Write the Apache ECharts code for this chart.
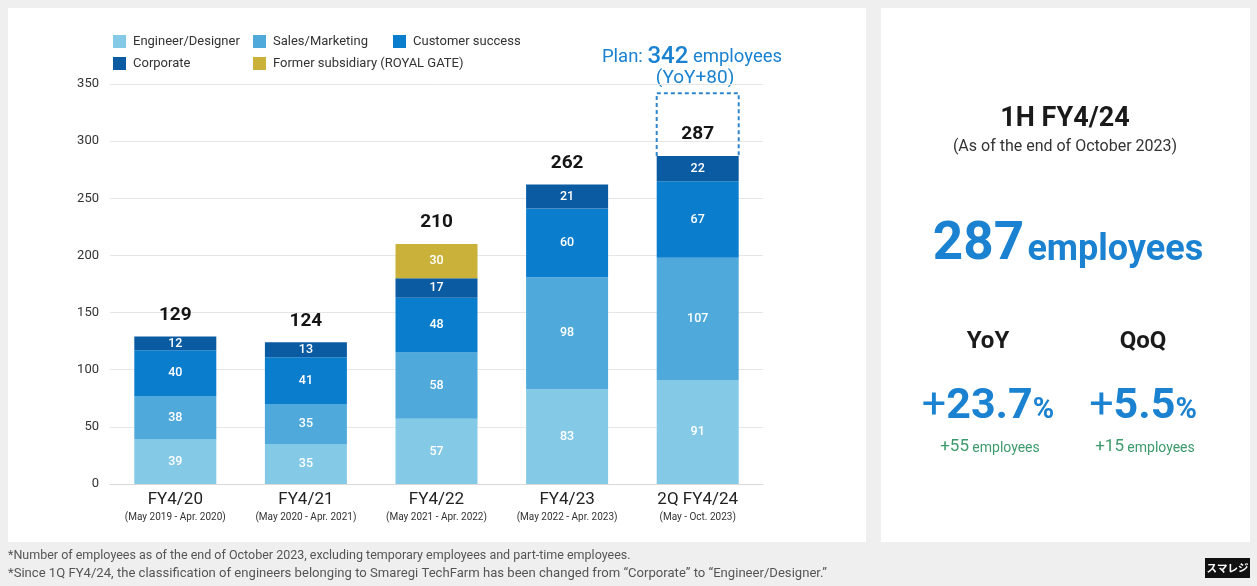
<!DOCTYPE html>
<html>
<head>
<meta charset="utf-8">
<script src="https://cdn.jsdelivr.net/npm/echarts@6/dist/echarts.min.js"></script>
<style>
  html, body { margin: 0; padding: 0; background: #efefef; }
  #chart { width: 1257px; height: 586px; }
</style>
</head>
<body>
<div id="chart"></div>
<script>
// Headcount by function at each fiscal year end
const categories = ['FY4/20', 'FY4/21', 'FY4/22', 'FY4/23', '2Q FY4/24'];
const periods = ['(May 2019 - Apr. 2020)', '(May 2020 - Apr. 2021)', '(May 2021 - Apr. 2022)', '(May 2022 - Apr. 2023)', '(May - Oct. 2023)'];
const engineerDesigner = [39, 35, 57, 83, 91];
const salesMarketing = [38, 35, 58, 98, 107];
const customerSuccess = [40, 41, 48, 60, 67];
const corporate = [12, 13, 17, 21, 22];
const formerSubsidiary = [null, null, 30, null, null];
const totals = [129, 124, 210, 262, 287];
const planIndex = 4;
const planCurrent = 287;
const planTarget = 342;
const yTicks = { min: 0, max: 350, interval: 50 };

const FONT = 'Roboto, "Liberation Sans", sans-serif';
const colors = {
  engineer: '#84c9e6',
  sales: '#4fa9db',
  customer: '#0b7dcd',
  corporate: '#0b5ba3',
  former: '#c9b13a',
  blue: '#1a82d0',
  green: '#3d9a6c'
};

const chart = echarts.init(document.getElementById('chart'));

function segment(name, data, color) {
  return {
    name, type: 'bar', stack: 'staff', data,
    barWidth: 82, barGap: '-100%',
    itemStyle: { color },
    label: {
      show: true, position: 'inside', color: '#ffffff',
      fontFamily: FONT, fontSize: 12.5, fontWeight: 500,
      formatter: p => (p.value == null ? '' : p.value)
    },
    emphasis: { disabled: true }
  };
}

function legendItem(name, left, top) {
  return {
    data: [name], left, top, orient: 'horizontal', padding: 0,
    itemWidth: 13, itemHeight: 13, icon: 'rect', itemGap: 6,
    textStyle: { fontFamily: FONT, fontSize: 13, color: '#333', padding: [0, 0, 0, 2] },
    selectedMode: false
  };
}

function centered(x, y, text, size, weight, fill) {
  return {
    type: 'text', x, y,
    style: { text, textAlign: 'center', textVerticalAlign: 'middle', fontFamily: FONT, fontSize: size, fontWeight: weight, fill }
  };
}

const option = {
  backgroundColor: '#efefef',
  animation: false,
  graphic: [
    { type: 'rect', z: -10, shape: { x: 8, y: 8, width: 858, height: 534 }, style: { fill: '#ffffff' } },
    { type: 'rect', z: -10, shape: { x: 881, y: 8, width: 369, height: 534 }, style: { fill: '#ffffff' } },
    // plan annotation
    {
      type: 'text', x: 692, y: 57,
      style: {
        text: '{s|Plan: }{b|342}{s| employees}', textAlign: 'center', textVerticalAlign: 'middle',
        rich: {
          s: { fontFamily: FONT, fontSize: 18.5, fill: colors.blue },
          b: { fontFamily: FONT, fontSize: 24, fontWeight: 500, fill: colors.blue }
        }
      }
    },
    centered(695, 78, '(YoY+80)', 19, 'normal', colors.blue),
    // summary panel
    centered(1065, 119, '1H FY4/24', 27, 'bold', '#1a1a1a'),
    centered(1065, 147, '(As of the end of October 2023)', 16, 'normal', '#333'),
    {
      type: 'text', x: 1068, y: 246,
      style: {
        text: '{n|287} {u|employees}', textAlign: 'center', textVerticalAlign: 'middle',
        rich: {
          n: { fontFamily: FONT, fontSize: 53, fontWeight: 'bold', fill: colors.blue },
          u: { fontFamily: FONT, fontSize: 36, fontWeight: 'bold', fill: colors.blue, padding: [10, 0, 0, 0] }
        }
      }
    },
    centered(988, 342, 'YoY', 24, 'bold', '#1a1a1a'),
    centered(1143, 342, 'QoQ', 24, 'bold', '#1a1a1a'),
    {
      type: 'text', x: 988, y: 407,
      style: {
        text: '{s|+}{n|23.7}{p|%}', textAlign: 'center', textVerticalAlign: 'middle',
        rich: {
          s: { fontFamily: FONT, fontSize: 43, fontWeight: 'normal', fill: colors.blue },
          n: { fontFamily: FONT, fontSize: 43, fontWeight: 'bold', fill: colors.blue },
          p: { fontFamily: FONT, fontSize: 29, fontWeight: 'bold', fill: colors.blue, padding: [8, 0, 0, 0] }
        }
      }
    },
    {
      type: 'text', x: 1143, y: 407,
      style: {
        text: '{s|+}{n|5.5}{p|%}', textAlign: 'center', textVerticalAlign: 'middle',
        rich: {
          s: { fontFamily: FONT, fontSize: 43, fontWeight: 'normal', fill: colors.blue },
          n: { fontFamily: FONT, fontSize: 43, fontWeight: 'bold', fill: colors.blue },
          p: { fontFamily: FONT, fontSize: 29, fontWeight: 'bold', fill: colors.blue, padding: [8, 0, 0, 0] }
        }
      }
    },
    {
      type: 'text', x: 990, y: 447,
      style: {
        text: '{n|+55} {u|employees}', textAlign: 'center', textVerticalAlign: 'middle',
        rich: {
          n: { fontFamily: FONT, fontSize: 17, fill: colors.green },
          u: { fontFamily: FONT, fontSize: 14, fill: colors.green, padding: [2, 0, 0, 0] }
        }
      }
    },
    {
      type: 'text', x: 1145, y: 447,
      style: {
        text: '{n|+15} {u|employees}', textAlign: 'center', textVerticalAlign: 'middle',
        rich: {
          n: { fontFamily: FONT, fontSize: 17, fill: colors.green },
          u: { fontFamily: FONT, fontSize: 14, fill: colors.green, padding: [2, 0, 0, 0] }
        }
      }
    },
    // footnotes
    {
      type: 'text', x: 8, y: 556,
      style: { text: '*Number of employees as of the end of October 2023, excluding temporary employees and part-time employees.', textVerticalAlign: 'middle', fontFamily: FONT, fontSize: 12.5, fill: '#555' }
    },
    {
      type: 'text', x: 8, y: 574,
      style: { text: '*Since 1Q FY4/24, the classification of engineers belonging to Smaregi TechFarm has been changed from \u201cCorporate\u201d to \u201cEngineer/Designer.\u201d', textVerticalAlign: 'middle', fontFamily: FONT, fontSize: 13.1, fill: '#555' }
    },
    // logo
    { type: 'rect', shape: { x: 1205, y: 558, width: 45, height: 20 }, style: { fill: '#111' } },
    {
      type: 'text', x: 1227.5, y: 568,
      style: { text: 'スマレジ', textAlign: 'center', textVerticalAlign: 'middle', fontFamily: '"Noto Sans CJK JP", sans-serif', fontSize: 10.5, fontWeight: 'bold', fill: '#ffffff' }
    }
  ],
  legend: [
    legendItem('Engineer/Designer', 113, 35),
    legendItem('Sales/Marketing', 253, 35),
    legendItem('Customer success', 393, 35),
    legendItem('Corporate', 113, 57),
    legendItem('Former subsidiary (ROYAL GATE)', 253, 57)
  ],
  grid: { left: 110, right: 494, top: 84, bottom: 102, containLabel: false },
  xAxis: {
    type: 'category', data: categories,
    axisLine: { lineStyle: { color: '#d9d9d9' } },
    axisTick: { show: false },
    axisLabel: {
      margin: 5, interval: 0,
      formatter: (v, i) => '{c|' + v + '}\n{p|' + periods[i] + '}',
      rich: {
        c: { fontFamily: FONT, fontSize: 17, color: '#222', lineHeight: 21 },
        p: { fontFamily: FONT, fontSize: 10, color: '#333', lineHeight: 15 }
      }
    }
  },
  yAxis: {
    type: 'value', min: yTicks.min, max: yTicks.max, interval: yTicks.interval,
    axisLine: { show: false }, axisTick: { show: false },
    splitLine: { lineStyle: { color: '#e6e6e6' } },
    axisLabel: { margin: 11, fontFamily: FONT, fontSize: 13, color: '#333' }
  },
  series: [
    segment('Engineer/Designer', engineerDesigner, colors.engineer),
    segment('Sales/Marketing', salesMarketing, colors.sales),
    segment('Customer success', customerSuccess, colors.customer),
    segment('Corporate', corporate, colors.corporate),
    segment('Former subsidiary (ROYAL GATE)', formerSubsidiary, colors.former),
    {
      name: 'Total', type: 'bar', data: totals, barWidth: 82, barGap: '-100%',
      silent: true, itemStyle: { color: 'transparent' },
      label: {
        show: true, position: 'top', distance: 12,
        fontFamily: FONT, fontSize: 19, fontWeight: 'bold', color: '#151515'
      }
    },
    {
      name: 'Plan', type: 'custom', silent: true, z: 5,
      data: [[planIndex, planCurrent, planTarget]],
      renderItem: (params, api) => {
        const base = api.coord([api.value(0), api.value(1)]);
        const top = api.coord([api.value(0), api.value(2)]);
        const half = 41;
        return {
          type: 'polyline',
          shape: { points: [[base[0] - half, base[1]], [base[0] - half, top[1]], [base[0] + half, top[1]], [base[0] + half, base[1]]] },
          style: { stroke: '#2f86cc', lineWidth: 2, lineDash: [4, 3], fill: null }
        };
      }
    }
  ]
};

chart.setOption(option);
</script>
</body>
</html>
